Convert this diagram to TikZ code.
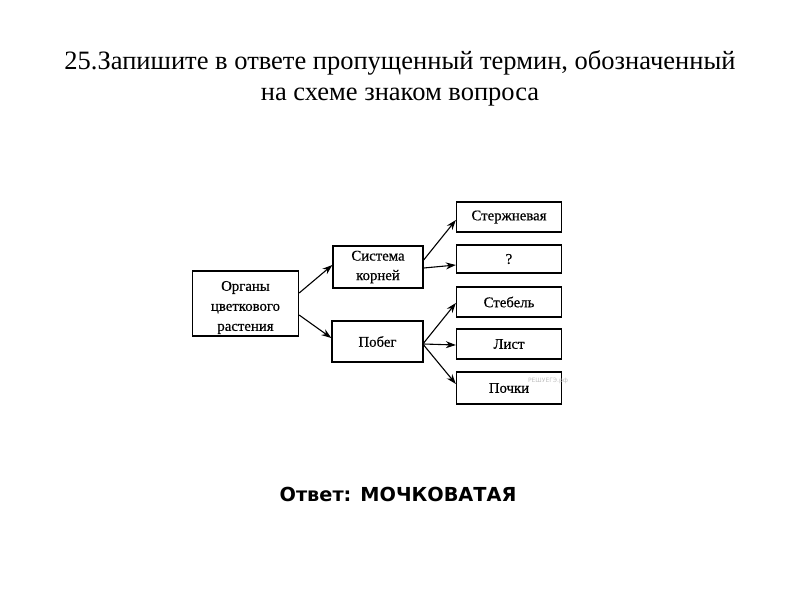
\documentclass[tikz,border=0pt]{standalone}
\usepackage{fontspec}
\setmainfont{Liberation Serif}
\newfontfamily\diagfont[FakeBold=0.5]{Liberation Serif}
\newfontfamily\answerfont{DejaVu Sans}
\usetikzlibrary{arrows.meta}
\begin{document}
\begin{tikzpicture}[x=1pt,y=-1pt,
  box/.style={draw,line width=1.3pt,inner sep=0pt,font=\diagfont\fontsize{14.8}{19.5}\selectfont,align=center},
  lbl/.style={inner sep=0pt,font=\diagfont\fontsize{14.8}{20}\selectfont,align=center},
  arr/.style={line width=1.1pt,-{Stealth[length=10pt,width=7pt]}}]
\useasboundingbox (0,0) rectangle (800,600);
\node[font=\fontsize{26.5}{31}\selectfont,align=center] (title) at (400,78) {25.Запишите в ответе пропущенный термин, обозначенный\\на схеме знаком вопроса};
\node[box,minimum width=106pt,minimum height=65pt] (org) at (245.5,303.5) {};
\node[lbl] (orgtext) at (245.5,307.5) {Органы\\цветкового\\растения};
\node[box,minimum width=90pt,minimum height=42pt] (sys) at (378,267) {Система\\корней};
\node[box,minimum width=91pt,minimum height=41pt] (pob) at (377.5,341.5) {Побег};
\node[box,minimum width=105pt,minimum height=30pt] (st) at (509,217) {Стержневая};
\node[box,minimum width=105pt,minimum height=28pt] (q) at (509,259) {?};
\node[box,minimum width=105pt,minimum height=30pt] (steb) at (509,302) {Стебель};
\node[box,minimum width=105pt,minimum height=30pt] (list) at (509,344) {Лист};
\node[box,minimum width=105pt,minimum height=32pt] (poch) at (509,388) {Почки};
\node[text=black!25,font=\answerfont\fontsize{6}{7}\selectfont] (wm) at (548,381) {РЕШУЕГЭ.рф};
\draw[arr] (org.east |- 0,293) -- (sys.west |- 0,265);
\draw[arr] (org.east |- 0,315) -- (pob.west |- 0,338);
\draw[arr] (sys.east |- 0,260) -- (st.west |- 0,220);
\draw[arr] (sys.east |- 0,268) -- (q.west |- 0,265);
\draw[arr] (pob.east |- 0,343) -- (steb.west |- 0,303);
\draw[arr] (pob.east |- 0,344) -- (list.west |- 0,345);
\draw[arr] (pob.east |- 0,345) -- (poch.west |- 0,384);
\node[font=\answerfont\bfseries\fontsize{19.3}{22}\selectfont] (ans) at (398,494) {Ответ: МОЧКОВАТАЯ};
\end{tikzpicture}
\end{document}
